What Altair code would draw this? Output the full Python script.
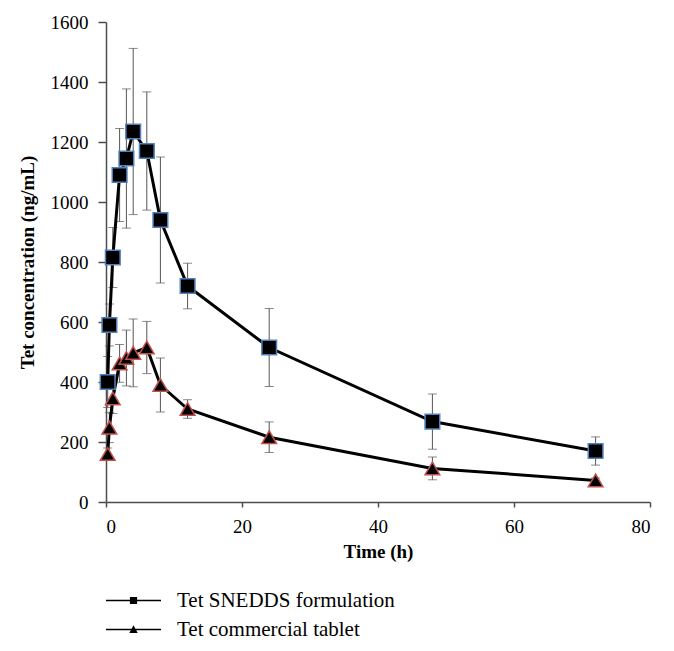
import altair as alt
import pandas as pd

# ---- data ----
time_h = [0.25, 0.5, 1, 2, 3, 4, 6, 8, 12, 24, 48, 72]
snedds = [400, 590, 815, 1090, 1145, 1235, 1170, 940, 720, 515, 268, 170]
snedds_sd = [85, 70, 100, 155, 232, 277, 197, 210, 76, 130, 92, 47]
tablet = [160, 248, 345, 462, 480, 497, 515, 390, 310, 216, 112, 72]
tablet_sd = [20, 50, 50, 63, 93, 113, 87, 90, 31, 51, 38, 8]
series_names = ["Tet SNEDDS formulation", "Tet commercial tablet"]
x_ticks = [0, 20, 40, 60, 80]
y_ticks = [0, 200, 400, 600, 800, 1000, 1200, 1400, 1600]

df = pd.DataFrame({
    "time": time_h + time_h,
    "conc": snedds + tablet,
    "sd": snedds_sd + tablet_sd,
    "series": [series_names[0]] * len(time_h) + [series_names[1]] * len(time_h),
})
df["lo"] = df["conc"] - df["sd"]
df["hi"] = df["conc"] + df["sd"]

FONT = "Liberation Serif"
AX = "#4d4d4d"

x = alt.X("time:Q", scale=alt.Scale(domain=[0, 80], nice=False),
          axis=alt.Axis(values=x_ticks, title="Time (h)", tickSize=5,
                        labelPadding=10, titlePadding=6, format="d"))
y = alt.Y("conc:Q", scale=alt.Scale(domain=[0, 1600], nice=False),
          axis=alt.Axis(values=y_ticks, title="Tet concentration (ng/mL)",
                        tickSize=8, labelPadding=10, titlePadding=13, format="d"))

base = alt.Chart(df)

err = base.mark_rule(color="#555555", strokeWidth=1).encode(
    x=x, y=alt.Y("lo:Q"), y2="hi:Q")
cap_lo = base.mark_tick(orient="horizontal", size=9, thickness=1, color="#555555").encode(
    x=x, y=alt.Y("lo:Q"))
cap_hi = base.mark_tick(orient="horizontal", size=9, thickness=1, color="#555555").encode(
    x=x, y=alt.Y("hi:Q"))

lines = base.mark_line(color="black", strokeWidth=3).encode(
    x=x, y=y, detail="series:N")

points = base.mark_point(filled=True, size=215, strokeWidth=1.5, opacity=1).encode(
    x=x, y=y,
    shape=alt.Shape("series:N", scale=alt.Scale(domain=series_names,
                                                 range=["square", "triangle-up"]),
                    legend=None),
    stroke=alt.Stroke("series:N", scale=alt.Scale(domain=series_names,
                                                   range=["#4f81bd", "#c0504d"]),
                      legend=None),
    fill=alt.value("black"),
)

# legend symbols: a thin bar (the line) with the marker in its middle
legend_paths = [
    "M-2.75,-0.08H2.75V0.08H-2.75Z M-0.36,-0.36H0.36V0.36H-0.36Z",
    "M-2.75,-0.08H2.75V0.08H-2.75Z M0,-0.42L0.42,0.34H-0.42Z",
]
legend_layer = base.mark_point(filled=True, fill="black", color="black",
                               opacity=1).encode(
    shape=alt.Shape("series:N",
                    scale=alt.Scale(domain=series_names, range=legend_paths),
                    legend=alt.Legend(title=None, orient="none", legendX=17,
                                      legendY=568, symbolSize=400,
                                      symbolFillColor="black",
                                      symbolStrokeWidth=0, symbolOpacity=1,
                                      labelFont=FONT, labelFontSize=21,
                                      labelColor="black", labelOffset=33,
                                      labelLimit=500, rowPadding=7)),
).transform_filter("datum.time < 0")

chart = alt.layer(err, cap_lo, cap_hi, lines, points, legend_layer).resolve_scale(
    shape="independent"
).properties(
    width=544, height=480,
    autosize=alt.AutoSizeParams(type="none"),
    padding={"left": 98, "top": 14, "right": 16, "bottom": 150},
).configure_view(stroke=None).configure_axis(
    grid=False, domainColor=AX, domainWidth=1.5, tickColor=AX, tickWidth=1.5,
    labelFont=FONT, labelFontSize=19, labelColor="black",
    titleFont=FONT, titleFontSize=19, titleFontWeight="bold", titleColor="black",
).configure_legend(labelFont=FONT, labelFontSize=21)

chart.save("out.html", embed_options={"renderer": "svg", "actions": False})
